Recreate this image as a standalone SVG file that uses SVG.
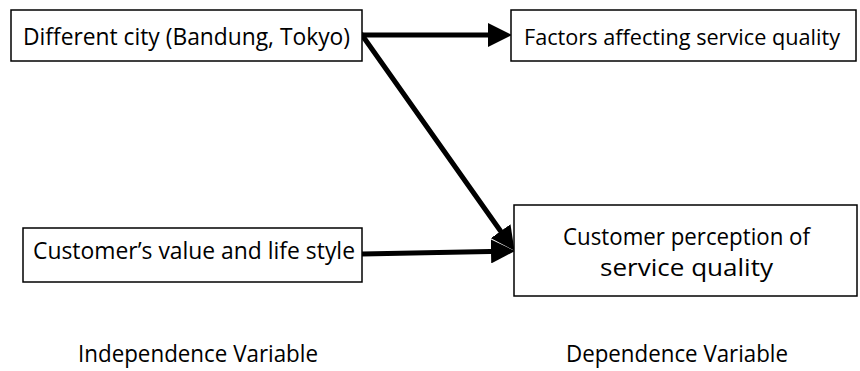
<svg xmlns="http://www.w3.org/2000/svg" width="860" height="371" viewBox="0 0 860 371">
<defs>
<style>
.box{fill:#fff;stroke:#000;stroke-width:1.5}
.t{font-family:"Open Sans","Liberation Sans",sans-serif;font-size:24px;fill:#000}
.c{stroke:#000;stroke-width:5;fill:none;stroke-linecap:round}
</style>
<marker id="ah" markerUnits="userSpaceOnUse" markerWidth="24" markerHeight="24" viewBox="0 0 22 22" refX="11" refY="11" orient="auto">
<path d="M0,0 L22,11 L0,22 Z" fill="#000"/>
</marker>
</defs>
<rect width="860" height="371" fill="#fff"/>
<g id="connectors">
<line class="c" x1="362" y1="35" x2="500" y2="35" marker-end="url(#ah)"/>
<line class="c" x1="362" y1="35" x2="507.6" y2="241" marker-end="url(#ah)"/>
<line class="c" x1="362" y1="254" x2="503" y2="251.2" marker-end="url(#ah)"/>
</g>
<g id="node-city">
<rect class="box" x="11" y="10" width="351" height="51"/>
<text class="t" x="23" y="45" textLength="327" lengthAdjust="spacingAndGlyphs">Different city (Bandung, Tokyo)</text>
</g>
<g id="node-factors">
<rect class="box" x="511" y="10" width="345" height="51"/>
<text class="t" x="524" y="45" style="font-size:22px" textLength="316" lengthAdjust="spacingAndGlyphs">Factors affecting service quality</text>
</g>
<g id="node-value">
<rect class="box" x="23" y="228" width="339" height="54"/>
<text class="t" x="33" y="259" textLength="322" lengthAdjust="spacingAndGlyphs">Customer’s value and life style</text>
</g>
<g id="node-perception">
<rect class="box" x="514" y="205" width="343" height="91"/>
<text class="t" x="563" y="245" textLength="247" lengthAdjust="spacingAndGlyphs">Customer perception of</text>
<text class="t" x="600" y="276" textLength="173" lengthAdjust="spacingAndGlyphs">service quality</text>
</g>
<g id="label-independent">
<text class="t" x="78" y="362" textLength="240" lengthAdjust="spacingAndGlyphs">Independence Variable</text>
</g>
<g id="label-dependent">
<text class="t" x="566" y="362" textLength="222" lengthAdjust="spacingAndGlyphs">Dependence Variable</text>
</g>
</svg>
